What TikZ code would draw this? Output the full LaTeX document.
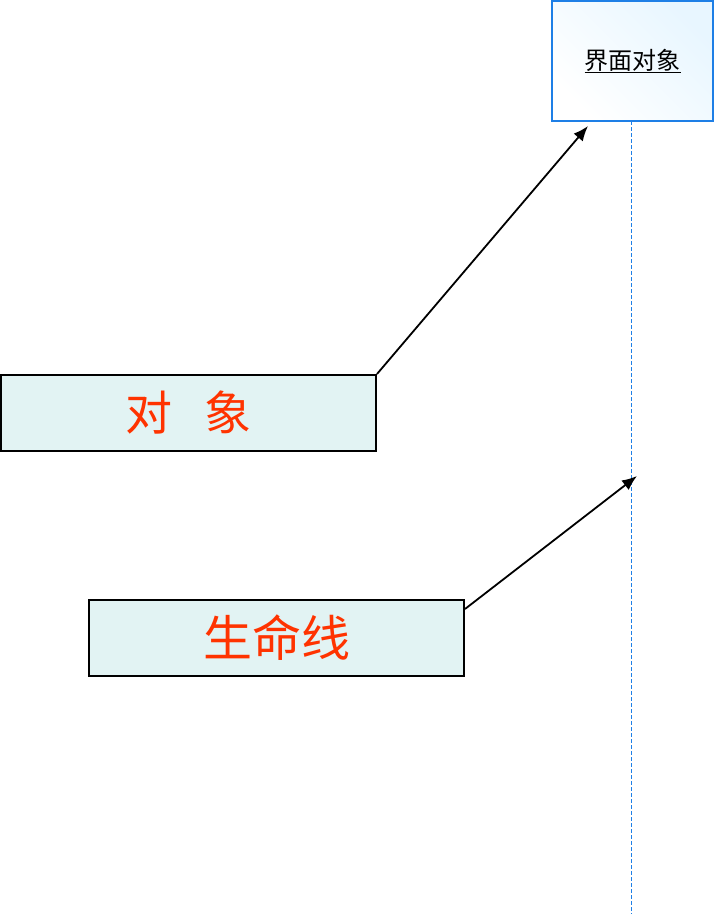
\documentclass[tikz,border=0pt]{standalone}
\usepackage{fontspec}
\newfontfamily\cjk{Noto Sans CJK SC}
\usetikzlibrary{arrows.meta}
\definecolor{objblue}{HTML}{1E7FE6}
\definecolor{objfill}{HTML}{E8F6FF}
\definecolor{notefill}{HTML}{E2F3F3}
\definecolor{notered}{HTML}{FF3300}
\tikzset{
  objbox/.style={draw=objblue, line width=1.2pt, left color=white, right color=objfill, shading angle=135,
    minimum width=161pt, minimum height=120pt, inner sep=0pt, font=\cjk\fontsize{24}{24}\selectfont},
  notebox/.style={draw=black, line width=2pt, fill=notefill, minimum width=375pt, minimum height=76pt,
    inner sep=0pt, text=notered},
  lifeline/.style={draw=objblue, line width=1pt, dash pattern=on 3.5pt off 2.5pt},
  pointer/.style={draw=black, line width=1.8pt, -{Latex[length=15pt,width=12pt]}}
}
\begin{document}
\begin{tikzpicture}[x=1pt,y=-1pt]
\useasboundingbox (0,0) rectangle (716,921);
\node[objbox] (obj) at (632.5,61) {\underline{界面对象}};
\coordinate (lifeEnd) at (631,914);
\coordinate (lifeStart) at (631,121);
\draw[lifeline] (lifeStart) -- (lifeEnd);
\node[notebox, font=\cjk\fontsize{47}{47}\selectfont] (objnote) at (188.5,413) {对\hspace{0.7em}象};
\node[notebox, font=\cjk\fontsize{49}{49}\selectfont] (lifenote) at (276.5,638) {生命线};
\coordinate (objTarget) at (588,126);
\coordinate (lifeTarget) at (637,476);
\draw[pointer] (objnote.north east) -- (objTarget);
\draw[pointer] ([yshift=-10pt]lifenote.north east) -- (lifeTarget);
\end{tikzpicture}
\end{document}
